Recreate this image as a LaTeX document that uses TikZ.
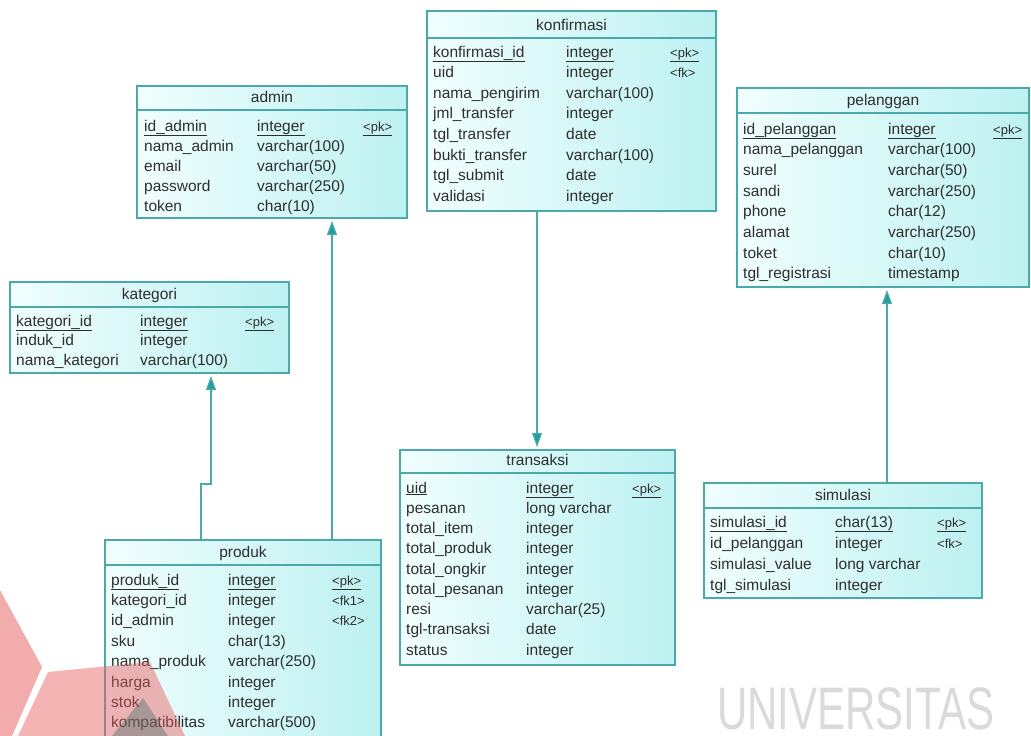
\documentclass[tikz,border=0pt]{standalone}
\usepackage{fontspec}
\setmainfont{Liberation Sans}
\usetikzlibrary{arrows.meta,calc}

\definecolor{erline}{HTML}{4DA9A9}
\definecolor{erarrow}{HTML}{239E9E}
\definecolor{erfillA}{HTML}{F1FEFE}
\definecolor{erfillB}{HTML}{BDF1F1}
\definecolor{ertext}{HTML}{2E2E2E}
\definecolor{markred}{HTML}{E85A5A}
\definecolor{markgrey}{HTML}{DADADA}

\tikzset{
  tablebox/.style={draw=erline, line width=1.1pt, left color=erfillA, right color=erfillB,
    inner sep=0pt, outer sep=0pt, anchor=north west},
  hdrline/.style={draw=erline, line width=1.1pt},
  titletext/.style={inner sep=0pt, anchor=base, text=ertext, font=\fontsize{15.5}{18}\selectfont},
  celltext/.style={inner sep=0pt, anchor=base west, text=ertext, font=\fontsize{15.5}{18}\selectfont},
  keytext/.style={celltext, font=\fontsize{13}{16}\selectfont},
  fk/.style={draw=erline, line width=1.2pt,
    -{Triangle[length=14pt,width=10pt,fill=erarrow]}, shorten >=3pt},
}

% \ertable{name}{x}{y}{width}{height}{header height}{title}{row pitch}{rows}
% column offsets and first baseline are set in \colA \colB \colC \rowA
\newcommand\ertable[9]{%
  \node[tablebox, minimum width=#4pt, minimum height=#5pt] (#1) at (#2,-#3) {};
  \draw[hdrline] ([yshift=-#6pt]#1.north west) -- ([yshift=-#6pt]#1.north east);
  \node[titletext] (#1-title) at ([yshift={-(#6-8)*1pt}]#1.north) {#7};
  \foreach \f/\t/\k [count=\i from 0] in {#9} {
    \node[celltext] (#1-n\i) at ([xshift=\colA pt, yshift={-(\rowA+\i*#8)*1pt}]#1.north west) {\f};
    \node[celltext] (#1-t\i) at ([xshift=\colB pt, yshift={-(\rowA+\i*#8)*1pt}]#1.north west) {\t};
    \node[keytext] (#1-k\i) at ([xshift=\colC pt, yshift={-(\rowA+\i*#8)*1pt}]#1.north west) {\k};
  }%
}

\begin{document}
\begin{tikzpicture}[x=1pt,y=1pt]
\useasboundingbox (0,0) rectangle (1031,-736);
\clip (0,0) rectangle (1031,-736);
\fill[white] (0,0) rectangle (1031,-736);

% ---- tables ----
\def\colA{6}\def\colB{139}\def\colC{243}\def\rowA{46}
\ertable{konfirmasi}{427}{11}{289}{200}{27}{konfirmasi}{20.6}{%
  {\underline{konfirmasi\_id}}/{\underline{integer}}/{\underline{<pk>}},
  uid/integer/<fk>,
  nama\_pengirim/varchar(100)/{},
  jml\_transfer/integer/{},
  tgl\_transfer/date/{},
  bukti\_transfer/varchar(100)/{},
  tgl\_submit/date/{},
  validasi/integer/{}}

\def\colA{7}\def\colB{120}\def\colC{226}\def\rowA{45}
\ertable{admin}{137}{86}{270}{132}{24}{admin}{20}{%
  {\underline{id\_admin}}/{\underline{integer}}/{\underline{<pk>}},
  nama\_admin/varchar(100)/{},
  email/varchar(50)/{},
  password/varchar(250)/{},
  token/char(10)/{}}

\def\colA{6}\def\colB{130}\def\colC{235}\def\rowA{44}
\ertable{kategori}{10}{282}{279}{91}{25}{kategori}{19.5}{%
  {\underline{kategori\_id}}/{\underline{integer}}/{\underline{<pk>}},
  induk\_id/integer/{},
  nama\_kategori/varchar(100)/{}}

\def\colA{6}\def\colB{151}\def\colC{256}\def\rowA{46}
\ertable{pelanggan}{737}{88}{292}{199}{25}{pelanggan}{20.7}{%
  {\underline{id\_pelanggan}}/{\underline{integer}}/{\underline{<pk>}},
  nama\_pelanggan/varchar(100)/{},
  surel/varchar(50)/{},
  sandi/varchar(250)/{},
  phone/char(12)/{},
  alamat/varchar(250)/{},
  toket/char(10)/{},
  tgl\_registrasi/timestamp/{}}

\def\colA{6}\def\colB{126}\def\colC{232}\def\rowA{43}
\ertable{transaksi}{400}{450}{275}{215}{23}{transaksi}{20.25}{%
  {\underline{uid}}/{\underline{integer}}/{\underline{<pk>}},
  pesanan/long varchar/{},
  total\_item/integer/{},
  total\_produk/integer/{},
  total\_ongkir/integer/{},
  total\_pesanan/integer/{},
  resi/varchar(25)/{},
  tgl-transaksi/date/{},
  status/integer/{}}

\def\colA{6}\def\colB{131}\def\colC{233}\def\rowA{44}
\ertable{simulasi}{704}{483}{278}{115}{25}{simulasi}{21}{%
  {\underline{simulasi\_id}}/{\underline{char(13)}}/{\underline{<pk>}},
  id\_pelanggan/integer/<fk>,
  simulasi\_value/long varchar/{},
  tgl\_simulasi/integer/{}}

\def\colA{6}\def\colB{123}\def\colC{227}\def\rowA{45}
\ertable{produk}{105}{540}{276}{208}{25}{produk}{20.4}{%
  {\underline{produk\_id}}/{\underline{integer}}/{\underline{<pk>}},
  kategori\_id/integer/<fk1>,
  id\_admin/integer/<fk2>,
  sku/char(13)/{},
  nama\_produk/varchar(250)/{},
  harga/integer/{},
  stok/integer/{},
  kompatibilitas/varchar(500)/{}}

% ---- references ----
\coordinate (pAdm) at ([xshift=227pt]produk.north west);
\draw[fk] (pAdm) -- (pAdm |- admin.south);

\coordinate (pKat) at ([xshift=96pt]produk.north west);
\coordinate (kBend) at (211,-484);
\draw[fk] (pKat) |- (kBend) -- (kBend |- kategori.south);

\coordinate (kTrx) at ([xshift=110pt]konfirmasi.south west);
\draw[fk] (kTrx) -- (kTrx |- transaksi.north);

\coordinate (sPel) at ([xshift=183pt]simulasi.north west);
\draw[fk] (sPel) -- (sPel |- pelanggan.south);

% ---- watermark ----
\fill[markred, opacity=0.5] (0,-590) -- (42,-667) -- (12,-736) -- (0,-736) -- cycle;
\fill[markred, opacity=0.45] (18,-736) -- (48,-672) -- (150,-662) -- (185,-736) -- cycle;
\fill[erline!60!black, opacity=0.35] (112,-736) -- (143,-698) -- (168,-736) -- cycle;
\node[inner sep=0pt, anchor=base west, text=markgrey] (wm) at (717,-729)
  {\scalebox{0.7}[1]{\fontsize{60}{60}\selectfont UNIVERSITAS}};
\end{tikzpicture}
\end{document}
